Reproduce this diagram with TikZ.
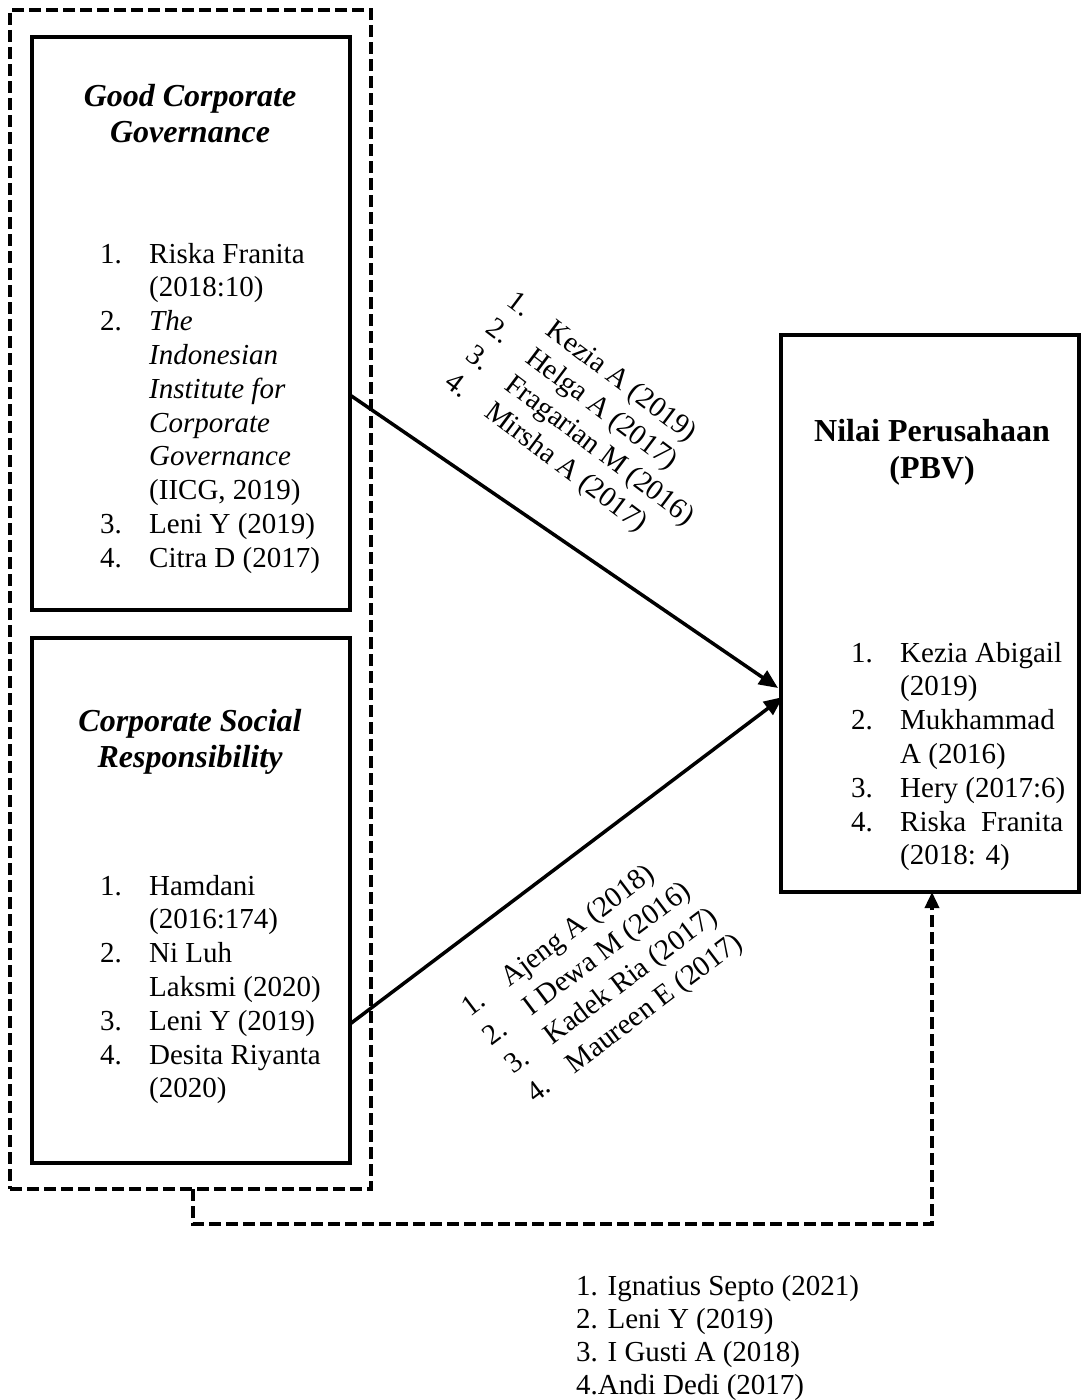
\documentclass[tikz,border=0pt]{standalone}
\usepackage{fontspec}
\setmainfont{Liberation Serif}
\usetikzlibrary{arrows.meta}
\begin{document}
\begin{tikzpicture}[x=1pt,y=-1pt,
  box/.style={draw, line width=3.5pt, inner sep=0pt, outer sep=0pt, anchor=north west},
  grpbox/.style={draw, line width=3.5pt, dash pattern=on 12pt off 5pt, inner sep=0pt, outer sep=0pt, anchor=north west},
  ttl/.style={anchor=base, font=\fontsize{32}{37}\selectfont\bfseries\itshape, inner sep=0pt},
  ttlb/.style={anchor=base, font=\fontsize{32}{37}\selectfont\bfseries, inner sep=0pt},
  lst/.style={anchor=base west, font=\fontsize{29}{33.8}\selectfont, inner sep=0pt},
  blst/.style={anchor=base west, font=\fontsize{29}{33}\selectfont, inner sep=0pt},
  rlab/.style={anchor=base west, font=\fontsize{29}{34}\selectfont, inner sep=0pt},
  link/.style={line width=3.5pt, -{Triangle[length=19pt,width=16pt]}},
  dlink/.style={line width=3.5pt, dash pattern=on 12pt off 5pt, -{Triangle[length=16pt,width=14pt]}},
]
\useasboundingbox (0,0) rectangle (1081,1400);
% boxes
\node[grpbox, minimum width=361pt, minimum height=1179pt] (grp) at (10,10) {};
\node[box, minimum width=318pt, minimum height=573pt] (gcg) at (32,37) {};
\node[box, minimum width=318pt, minimum height=525pt] (csr) at (32,638) {};
\node[box, minimum width=298pt, minimum height=557pt] (pbv) at (781,335) {};
% titles
\node[ttl] (gcgt1) at (190,106) {Good Corporate};
\node[ttl] (gcgt2) at (190,142) {Governance};
\node[ttl] (csrt1) at (190,731) {Corporate Social};
\node[ttl] (csrt2) at (190,767) {Responsibility};
\node[ttlb] (pbvt1) at (932,441) {Nilai Perusahaan};
\node[ttlb] (pbvt2) at (932,478) {(PBV)};
% lists in boxes
\node[lst] (gcgl) at (100,263) {\begin{tabular}[t]{@{}l@{}l@{}}
\makebox[49pt][l]{1.} & Riska Franita\\
 & (2018:10)\\
2. & \textit{The}\\
 & \textit{Indonesian}\\
 & \textit{Institute for}\\
 & \textit{Corporate}\\
 & \textit{Governance}\\
 & (IICG, 2019)\\
3. & Leni Y (2019)\\
4. & Citra D (2017)
\end{tabular}};
\node[lst] (csrl) at (100,895) {\begin{tabular}[t]{@{}l@{}l@{}}
\makebox[49pt][l]{1.} & Hamdani\\
 & (2016:174)\\
2. & Ni Luh\\
 & Laksmi (2020)\\
3. & Leni Y (2019)\\
4. & Desita Riyanta\\
 & (2020)
\end{tabular}};
\node[lst] (pbvl) at (851,662) {\begin{tabular}[t]{@{}l@{}l@{}}
\makebox[49pt][l]{1.} & Kezia Abigail\\
 & (2019)\\
2. & Mukhammad\\
 & A (2016)\\
3. & Hery (2017:6)\\
4. & \makebox[163pt][s]{Riska Franita}\\
 & (2018: 4)
\end{tabular}};
% bottom list
\node[blst] (botl) at (576,1295) {\begin{tabular}[t]{@{}l@{}}
1. Ignatius Septo (2021)\\
2. Leni Y (2019)\\
3. I Gusti A (2018)\\
4.Andi Dedi (2017)
\end{tabular}};
% rotated labels (top)
\node[rlab, rotate=-37] (k1) at (505.3,304.2) {\makebox[49pt][l]{1.}Kezia A (2019)};
\node[rlab, rotate=-37] (k2) at (484.8,331.4) {\makebox[49pt][l]{2.}Helga A (2017)};
\node[rlab, rotate=-37] (k3) at (464.3,358.6) {\makebox[49pt][l]{3.}Fragarian M (2016)};
\node[rlab, rotate=-37] (k4) at (443.8,385.8) {\makebox[49pt][l]{4.}Mirsha A (2017)};
% rotated labels (bottom)
\node[rlab, rotate=37] (a1) at (470.1,1017.4) {\makebox[49pt][l]{1.}Ajeng A (2018)};
\node[rlab, rotate=37] (a2) at (491.8,1046.2) {\makebox[49pt][l]{2.}I Dewa M (2016)};
\node[rlab, rotate=37] (a3) at (513.5,1075.0) {\makebox[49pt][l]{3.}Kadek Ria (2017)};
\node[rlab, rotate=37] (a4) at (535.2,1103.8) {\makebox[49pt][l]{4.}Maureen E (2017)};
% connectors
\coordinate (t1) at (778,688);
\coordinate (t2) at (783,697);
\draw[link] (gcg.east |- 0,395) -- (t1);
\draw[link] (csr.east |- 0,1024) -- (t2);
\coordinate (jl) at (193,1224);
\coordinate (jr) at (932,1224);
\draw[dlink] (grp.south -| jl) -- (jl) -- (jr) -- (pbv.south -| jr);
\end{tikzpicture}
\end{document}
